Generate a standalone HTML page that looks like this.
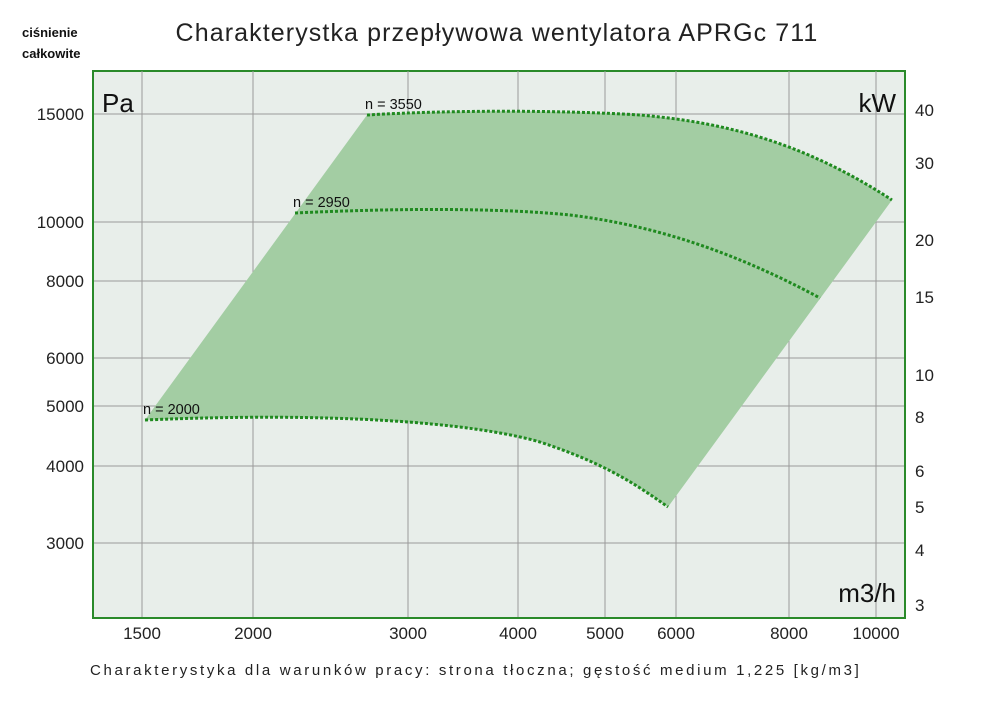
<!DOCTYPE html>
<html><head><meta charset="utf-8"><style>
body{margin:0;background:#fff;}
svg{display:block;font-family:"Liberation Sans",sans-serif;}
</style></head><body>
<svg width="1000" height="706" viewBox="0 0 1000 706">
<text x="497" y="41" font-size="25" text-anchor="middle" fill="#222" letter-spacing="1.1">Charakterystka przepływowa wentylatora APRGc 711</text>
<text x="22" y="37" font-size="13" font-weight="bold" fill="#111">ciśnienie</text>
<text x="22" y="58" font-size="13" font-weight="bold" fill="#111">całkowite</text>
<rect x="93" y="71" width="812" height="547" fill="#e8eeea" stroke="#2a8a2a" stroke-width="2"/>
<g stroke="#9a9a9a" stroke-width="1">
<line x1="142" y1="71" x2="142" y2="617"/><line x1="253" y1="71" x2="253" y2="617"/>
<line x1="408" y1="71" x2="408" y2="617"/><line x1="518" y1="71" x2="518" y2="617"/>
<line x1="605" y1="71" x2="605" y2="617"/><line x1="676" y1="71" x2="676" y2="617"/>
<line x1="789" y1="71" x2="789" y2="617"/><line x1="876" y1="71" x2="876" y2="617"/>
<line x1="94" y1="114" x2="904" y2="114"/><line x1="94" y1="222" x2="904" y2="222"/>
<line x1="94" y1="281" x2="904" y2="281"/><line x1="94" y1="358" x2="904" y2="358"/>
<line x1="94" y1="406" x2="904" y2="406"/><line x1="94" y1="466" x2="904" y2="466"/>
<line x1="94" y1="543" x2="904" y2="543"/>
</g>
<path d="M145,420 L367,115 C450,110 560,110 640,115 C720,122 800,140 892,200 L668,507 C630,480 600,462 540,442 C470,422 330,412 145,420 Z" fill="#a3cda3"/>
<g fill="none" stroke="#1f8a1f" stroke-width="3" stroke-dasharray="3,2">
<path d="M367,115 C450,110 560,110 640,115 C720,122 800,140 892,200"/>
<path d="M295,213 C400,208 500,208 570,215 C660,226 740,255 820,298"/>
<path d="M145,420 C330,412 470,422 540,442 C600,462 630,480 668,507"/>
</g>
<g font-size="14.5" fill="#111">
<text x="365" y="109">n = 3550</text>
<text x="293" y="207">n = 2950</text>
<text x="143" y="414">n = 2000</text>
</g>
<text x="102" y="112" font-size="26" fill="#111">Pa</text>
<text x="896" y="112" font-size="26" fill="#111" text-anchor="end">kW</text>
<text x="896" y="602" font-size="26" fill="#111" text-anchor="end">m3/h</text>
<g font-size="17" fill="#222" text-anchor="end">
<text x="84" y="120">15000</text><text x="84" y="228">10000</text><text x="84" y="287">8000</text>
<text x="84" y="364">6000</text><text x="84" y="412">5000</text><text x="84" y="472">4000</text>
<text x="84" y="549">3000</text>
</g>
<g font-size="17" fill="#222" text-anchor="start">
<text x="915" y="116">40</text><text x="915" y="169">30</text><text x="915" y="246">20</text>
<text x="915" y="303">15</text><text x="915" y="381">10</text><text x="915" y="423">8</text>
<text x="915" y="477">6</text><text x="915" y="513">5</text><text x="915" y="556">4</text>
<text x="915" y="611">3</text>
</g>
<g font-size="17" fill="#222" text-anchor="middle">
<text x="142" y="639">1500</text><text x="253" y="639">2000</text><text x="408" y="639">3000</text>
<text x="518" y="639">4000</text><text x="605" y="639">5000</text><text x="676" y="639">6000</text>
<text x="789" y="639">8000</text><text x="876" y="639">10000</text>
</g>
<text x="90" y="675" font-size="15" fill="#222" letter-spacing="2.65">Charakterystyka dla warunków pracy: strona tłoczna; gęstość medium 1,225 [kg/m3]</text>
</svg>
</body></html>
